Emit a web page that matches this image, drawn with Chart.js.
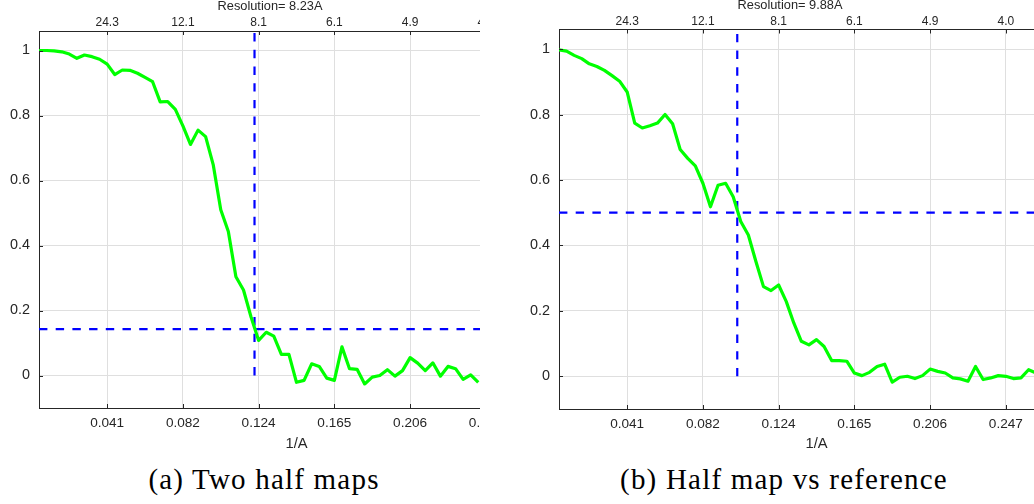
<!DOCTYPE html>
<html>
<head>
<meta charset="utf-8">
<script src="https://cdn.jsdelivr.net/npm/chart.js@4.4.1/dist/chart.umd.min.js"></script>
<style>
  html, body { margin: 0; padding: 0; background: #ffffff; }
  body { width: 1034px; height: 504px; position: relative; overflow: hidden; }
  .clip { position: absolute; top: 0; height: 460px; overflow: hidden; }
  .clip canvas { position: absolute; left: 0; top: 0; }
  .caption { position: absolute; width: 400px; text-align: center; font-family: "Liberation Serif", serif;
             font-size: 29px; line-height: 29px; letter-spacing: 1.2px; color: #000; white-space: nowrap; }
</style>
</head>
<body>
<div class="clip" style="left:0; width:480px;"><canvas id="c1" width="554" height="460"></canvas></div>
<div class="clip" style="left:520px; width:554px;"><canvas id="c2" width="554" height="460"></canvas></div>
<div class="caption" style="left:64px; top:465px;">(a) Two half maps</div>
<div class="caption" style="left:584px; top:465px;">(b) Half map vs reference</div>
<script>
// ---- data (FSC curves, one value per Fourier shell, starting at shell 1) ----
const FREQ_STEP = 0.004125;          // 1/A per shell
const SHELL_MAX = 69;                // last shell inside the axis range

const fscHalfMaps = [
  1.000, 1.000, 0.999, 0.996, 0.989, 0.976, 0.986, 0.981, 0.973, 0.958,
  0.926, 0.940, 0.939, 0.930, 0.917, 0.904, 0.842, 0.843, 0.819, 0.768,
  0.711, 0.755, 0.735, 0.649, 0.510, 0.443, 0.304, 0.263, 0.180, 0.108,
  0.133, 0.121, 0.065, 0.065, -0.021, -0.015, 0.036, 0.028, -0.008, -0.015,
  0.088, 0.021, 0.019, -0.026, -0.005, 0.000, 0.018, -0.002, 0.015, 0.055,
  0.038, 0.015, 0.039, -0.002, 0.028, 0.021, -0.012, 0.002, -0.021
];

const fscHalfVsRef = [
  0.998, 0.994, 0.981, 0.971, 0.955, 0.947, 0.935, 0.919, 0.902, 0.869,
  0.774, 0.759, 0.766, 0.774, 0.800, 0.772, 0.693, 0.666, 0.643, 0.590,
  0.518, 0.584, 0.590, 0.549, 0.473, 0.432, 0.351, 0.274, 0.262, 0.279,
  0.229, 0.163, 0.107, 0.096, 0.112, 0.091, 0.048, 0.048, 0.046, 0.010,
  0.002, 0.012, 0.030, 0.037, -0.018, -0.003, 0.000, -0.007, 0.002, 0.022,
  0.015, 0.010, -0.005, -0.008, -0.015, 0.030, -0.010, -0.005, 0.002, 0.000,
  -0.007, -0.005, 0.020, 0.010
];

// ---- ticks ----
const freqTicks = [0.04125, 0.0825, 0.12375, 0.165, 0.20625, 0.2475];
const freqTickLabels = ['0.041', '0.082', '0.124', '0.165', '0.206', '0.247'];
const resTickLabels = ['24.3', '12.1', '8.1', '6.1', '4.9', '4.0'];
const yTicks = [0, 0.2, 0.4, 0.6, 0.8, 1];
const yTickLabels = ['0', '0.2', '0.4', '0.6', '0.8', '1'];

// ---- thresholds / resolutions ----
const resolutionA = 8.23, thresholdA = 0.143;
const resolutionB = 9.88, thresholdB = 0.5;
const titleA = 'Resolution= 8.23A';
const titleB = 'Resolution= 9.88A';
const xTitle = '1/A';

const Y_MIN = -0.1, Y_MAX = 1.06;
const AXIS_COLOR = '#262626';
const GRID_COLOR = '#dfdfdf';
const FONT = '"Liberation Sans", Arial, sans-serif';

function toPoints(vals) {
  return vals.map((v, i) => ({ x: (i + 1) * FREQ_STEP, y: v }));
}

const innerTicks = {
  id: 'innerTicks',
  afterDatasetsDraw(chart) {
    const ctx = chart.ctx, a = chart.chartArea, L = 4;
    ctx.save();
    ctx.strokeStyle = AXIS_COLOR; ctx.lineWidth = 1;
    ctx.beginPath();
    chart.scales.x.ticks.forEach(t => {
      const px = Math.round(chart.scales.x.getPixelForValue(t.value)) + 0.5;
      ctx.moveTo(px, a.bottom); ctx.lineTo(px, a.bottom - L);
      ctx.moveTo(px, a.top); ctx.lineTo(px, a.top + L);
    });
    chart.scales.y.ticks.forEach(t => {
      const py = Math.round(chart.scales.y.getPixelForValue(t.value)) + 0.5;
      ctx.moveTo(a.left, py); ctx.lineTo(a.left + L, py);
    });
    ctx.stroke();
    ctx.restore();
  }
};

const topTitle = {
  id: 'topTitle',
  afterDraw(chart, args, opts) {
    const ctx = chart.ctx, a = chart.chartArea;
    ctx.save();
    ctx.fillStyle = AXIS_COLOR;
    ctx.font = '12.8px ' + FONT;
    ctx.textAlign = 'center';
    ctx.textBaseline = 'middle';
    ctx.fillText(opts.text, a.left + 231, a.top - 24.3);
    ctx.restore();
  }
};

function makeChart(id, values, res, thr, title, topH, botH) {
  const xMin = FREQ_STEP, xMax = SHELL_MAX * FREQ_STEP;
  const resFreq = 1 / res;
  return new Chart(document.getElementById(id), {
    type: 'line',
    data: {
      datasets: [
        { data: toPoints(values), borderColor: '#00ff00', borderWidth: 3.2, pointRadius: 0,
          tension: 0, fill: false, borderJoinStyle: 'round' },
        { data: [{ x: xMin, y: thr }, { x: xMax, y: thr }], borderColor: '#0000ff', borderWidth: 2.2,
          borderDash: [8.4, 8.3], pointRadius: 0, fill: false },
        { data: [{ x: resFreq, y: 0 }, { x: resFreq, y: Y_MAX }], borderColor: '#0000ff', borderWidth: 2.2,
          borderDash: [8.4, 8.3], pointRadius: 0, fill: false }
      ]
    },
    options: {
      responsive: false,
      animation: false,
      layout: { padding: 0 },
      plugins: { legend: { display: false }, tooltip: { enabled: false }, topTitle: { text: title } },
      scales: {
        x: {
          type: 'linear', position: 'bottom', min: xMin, max: xMax,
          afterBuildTicks: s => { s.ticks = freqTicks.map(v => ({ value: v })); },
          afterFit: s => { s.height = botH; },
          ticks: { autoSkip: false, maxRotation: 0, color: AXIS_COLOR, padding: 7,
                   font: { family: FONT, size: 13.6 }, callback: (v, i) => freqTickLabels[i] },
          grid: { color: GRID_COLOR, lineWidth: 1, drawTicks: false },
          border: { color: AXIS_COLOR, width: 1 },
          title: { display: true, text: xTitle, color: AXIS_COLOR, font: { family: FONT, size: 14.7 },
                   padding: { top: 0, bottom: 7.2 } }
        },
        x2: {
          type: 'linear', position: 'top', min: xMin, max: xMax,
          afterBuildTicks: s => { s.ticks = freqTicks.map(v => ({ value: v })); },
          afterFit: s => { s.height = topH; },
          ticks: { autoSkip: false, maxRotation: 0, color: AXIS_COLOR, padding: 0.8,
                   font: { family: FONT, size: 12 }, callback: (v, i) => resTickLabels[i] },
          grid: { display: false, drawTicks: false },
          border: { display: true, color: AXIS_COLOR, width: 1 }
        },
        y: {
          type: 'linear', position: 'left', min: Y_MIN, max: Y_MAX,
          afterBuildTicks: s => { s.ticks = yTicks.map(v => ({ value: v })); },
          afterFit: s => { s.width = 39; },
          ticks: { color: AXIS_COLOR, padding: 9, font: { family: FONT, size: 14.4 },
                   callback: (v, i) => yTickLabels[i] },
          grid: { color: GRID_COLOR, lineWidth: 1, drawTicks: false },
          border: { color: AXIS_COLOR, width: 1 }
        }
      }
    },
    plugins: [innerTicks, topTitle]
  });
}

makeChart('c1', fscHalfMaps, resolutionA, thresholdA, titleA, 31, 52);
makeChart('c2', fscHalfVsRef, resolutionB, thresholdB, titleB, 29.5, 51);
</script>
</body>
</html>
